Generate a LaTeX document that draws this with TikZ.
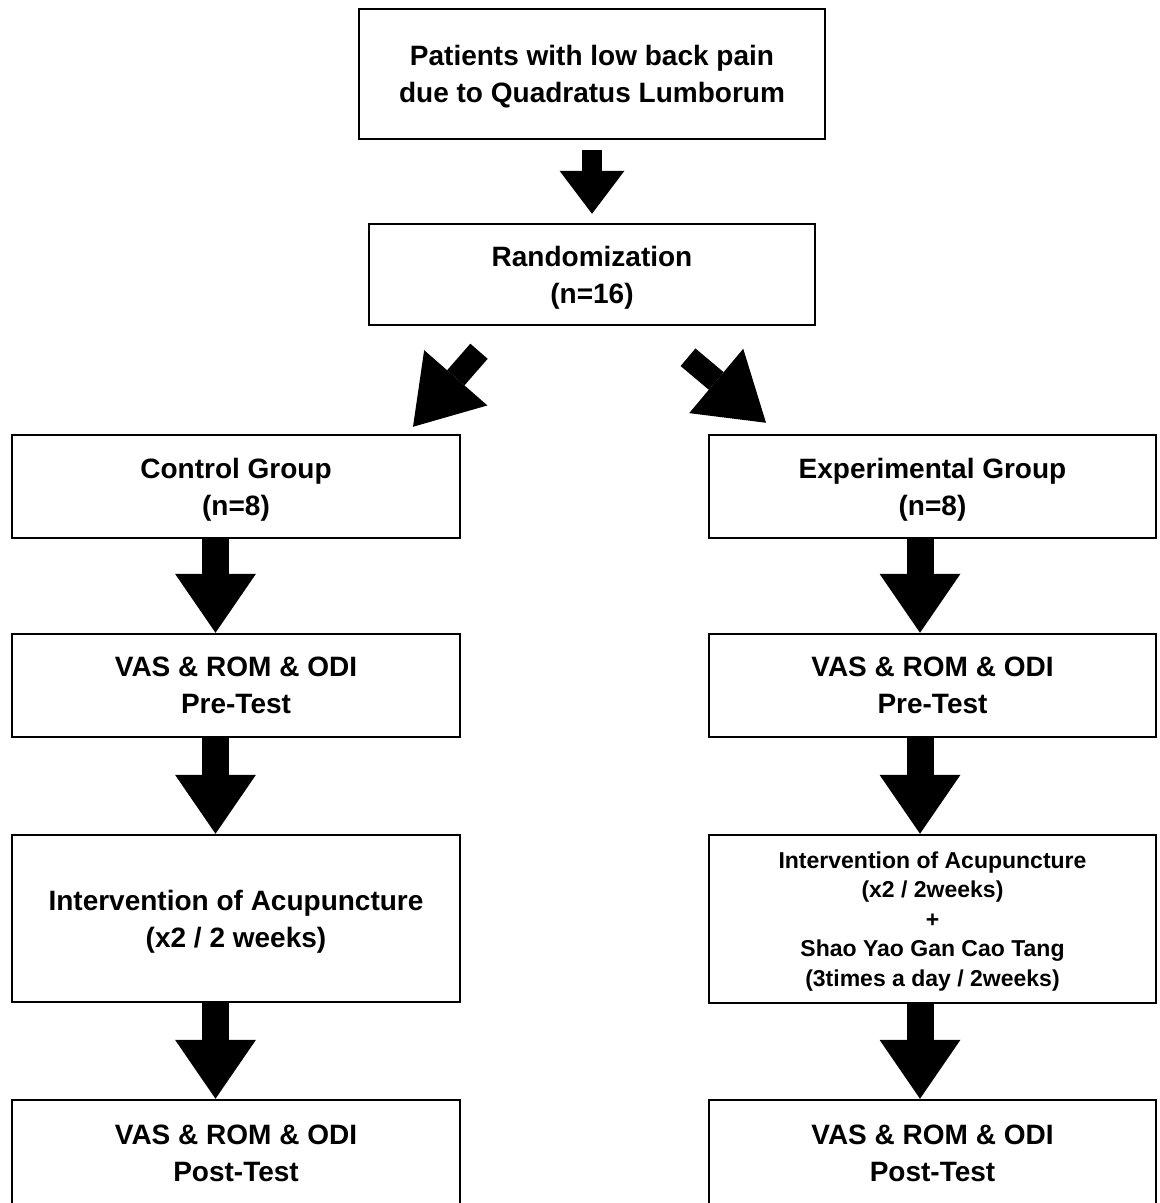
\documentclass[tikz,border=0pt]{standalone}
\usepackage{fontspec}
\setmainfont{Liberation Sans}
\usetikzlibrary{arrows.meta,positioning}

\tikzset{
	box/.style={draw,line width=2.5pt,align=center,inner sep=0pt,text depth=0pt,
		font=\bfseries\fontsize{28}{37}\selectfont},
	smallbox/.style={box,font=\bfseries\fontsize{23}{29.5}\selectfont},
	toparrow/.style={line width=20pt,-{Triangle[length=43pt,width=65pt,line width=0pt]}},
	bigarrow/.style={line width=27pt,-{Triangle[length=59pt,width=81pt,line width=0pt]}},
	slantarrow/.style={line width=23pt,-{Triangle[length=65pt,width=84pt,line width=0pt]}}
}

\begin{document}
\begin{tikzpicture}[x=1pt,y=-1pt]
		
		\clip (0,0) rectangle (1160,1203);
		
		\node[box,minimum width=466pt,minimum height=130pt] (patients) at (592,74)
		{Patients with low back pain\\due to Quadratus Lumborum};
		
		\node[box,minimum width=446pt,minimum height=101pt] (rand) at (592,274.5)
		{Randomization\\(n=16)};
		
		\node[box,minimum width=448pt,minimum height=103pt] (ctrl) at (236,486.5)
		{Control Group\\(n=8)};
		
		\node[box,minimum width=447pt,minimum height=103pt] (expt) at (932.5,486.5)
		{Experimental Group\\(n=8)};
		
		\node[box,minimum width=448pt,minimum height=103pt] (preC) at (236,685.5)
		{VAS \& ROM \& ODI\\Pre-Test};
		
		\node[box,minimum width=447pt,minimum height=103pt] (preE) at (932.5,685.5)
		{VAS \& ROM \& ODI\\Pre-Test};
		
		\node[box,minimum width=448pt,minimum height=167pt] (intC) at (236,918.5)
		{Intervention of Acupuncture\\(x2 / 2 weeks)};
		
		\node[smallbox,minimum width=447pt,minimum height=168pt] (intE) at (932.5,919)
		{Intervention of Acupuncture\\(x2 / 2weeks)\\+\\Shao Yao Gan Cao Tang\\(3times a day / 2weeks)};
		
		\node[box,minimum width=448pt,minimum height=107pt] (postC) at (236,1153.5)
		{VAS \& ROM \& ODI\\Post-Test};
		
		\node[box,minimum width=447pt,minimum height=107pt] (postE) at (932.5,1153.5)
		{VAS \& ROM \& ODI\\Post-Test};
		
		\draw[toparrow] ([yshift=-10pt]patients.south) -- ([yshift=9pt]rand.north);
		
		\draw[slantarrow] ([xshift=-113pt,yshift=-25pt]rand.south) -- ([xshift=177pt,yshift=7pt]ctrl.north);
		
		\draw[slantarrow] ([xshift=96pt,yshift=-31pt]rand.south) -- ([xshift=-166.5pt,yshift=11pt]expt.north);
		
		\draw[bigarrow] ([xshift=-20.5pt]ctrl.south) -- ([xshift=-20.5pt]preC.north);
		
		\draw[bigarrow] ([xshift=-20.5pt]preC.south) -- ([xshift=-20.5pt]intC.north);
		
		\draw[bigarrow] ([xshift=-20.5pt]intC.south) -- ([xshift=-20.5pt]postC.north);
		
		\draw[bigarrow] ([xshift=-12.5pt]expt.south) -- ([xshift=-12.5pt]preE.north);
		
		\draw[bigarrow] ([xshift=-12.5pt]preE.south) -- ([xshift=-12.5pt]intE.north);
		
		\draw[bigarrow] ([xshift=-12.5pt]intE.south) -- ([xshift=-12.5pt]postE.north);
		
	\end{tikzpicture}
\end{document}
